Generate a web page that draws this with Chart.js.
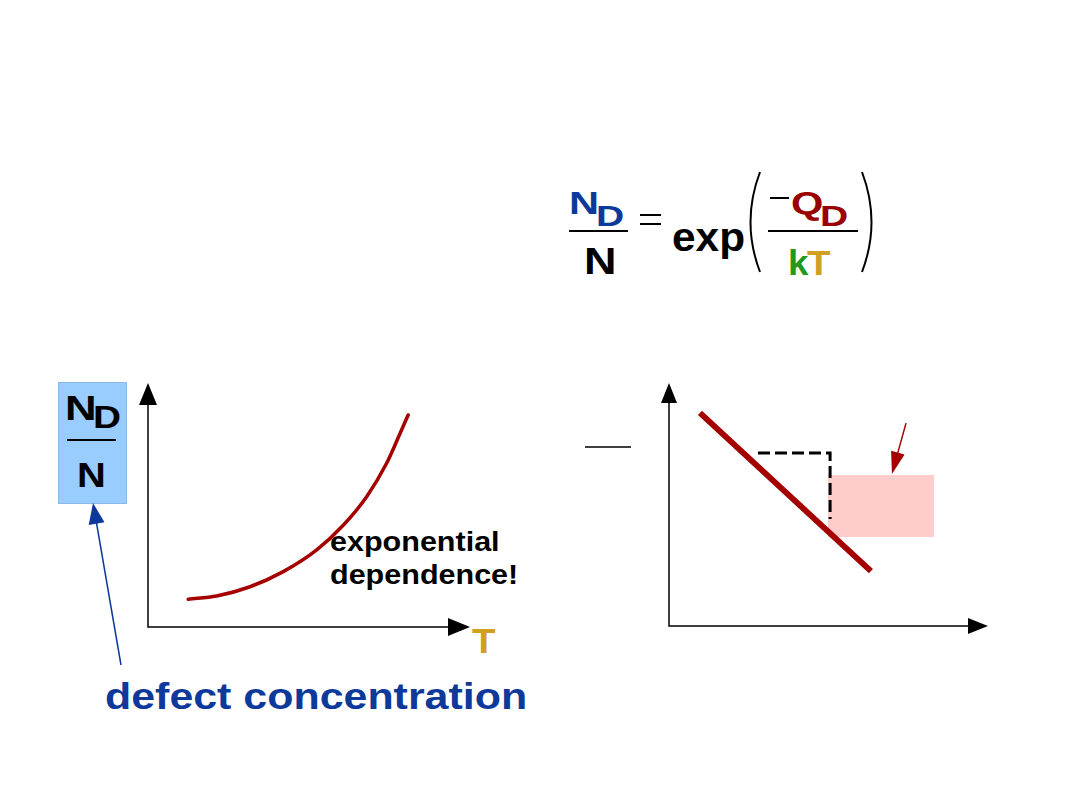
<!DOCTYPE html>
<html>

<head>
  <title>Defect concentration</title>
  <meta charset="UTF-8">
  <script src="https://cdn.jsdelivr.net/npm/chart.js"></script>
  <style>
    body {
      margin: 0;
      width: 1080px;
      height: 810px;
      overflow: hidden;
      background: white;
      font-family: "Liberation Sans", Arial, sans-serif;
      font-weight: bold;
      position: relative;
    }

    .t {
      position: absolute;
      line-height: 1;
      white-space: nowrap;
      transform-origin: 0 0;
    }

    .bar {
      position: absolute;
      height: 2px;
      background: black;
    }

    canvas {
      position: absolute;
    }

    #overlay {
      position: absolute;
      left: 0;
      top: 0;
    }
  </style>
</head>

<body>
  <!-- equation -->
  <div class="t" style="left:569px;top:187px;font-size:32px;color:#0d3a9a;transform:scaleX(1.3)">N</div>
  <div class="t" style="left:596px;top:201px;font-size:30px;color:#0d3a9a;transform:scaleX(1.3)">D</div>
  <div class="bar" style="left:569px;top:230px;width:59px"></div>
  <div class="t" style="left:584px;top:244px;font-size:36px;color:#000;transform:scaleX(1.25)">N</div>
  <div class="t" style="left:672px;top:217px;font-size:40px;color:#000;transform:scaleX(1.06)">exp</div>
  <div class="t" style="left:791px;top:187px;font-size:32px;color:#990000;transform:scaleX(1.3)">Q</div>
  <div class="t" style="left:820px;top:201px;font-size:30px;color:#990000;transform:scaleX(1.3)">D</div>
  <div class="bar" style="left:768px;top:230px;width:90px"></div>
  <div class="t" style="left:788px;top:245px;font-size:35px;color:#1f9a1f;transform:scaleX(1.05)">k</div>
  <div class="t" style="left:807px;top:245px;font-size:35px;color:#d0a020;transform:scaleX(1.1)">T</div>

  <!-- left box -->
  <div style="position:absolute;left:58px;top:382px;width:67px;height:120px;background:#99ccff;border:1px solid #8ab8e8"></div>
  <div class="t" style="left:65px;top:390px;font-size:35px;color:#000;transform:scaleX(1.25)">N</div>
  <div class="t" style="left:93px;top:402px;font-size:31px;color:#000;transform:scaleX(1.25)">D</div>
  <div class="bar" style="left:67px;top:439px;width:49px"></div>
  <div class="t" style="left:77px;top:457px;font-size:35px;color:#000;transform:scaleX(1.14)">N</div>

  <div class="t" style="left:472px;top:623px;font-size:35px;color:#d0a020;transform:scaleX(1.1)">T</div>
  <div class="t" style="left:330px;top:528px;font-size:28px;color:#000;transform:scaleX(1.09)">exponential</div>
  <div class="t" style="left:330px;top:561px;font-size:28px;color:#000;transform:scaleX(1.09)">dependence!</div>
  <div class="t" style="left:105px;top:678px;font-size:37px;color:#0d3a9a;transform:scaleX(1.16)">defect concentration</div>

  <canvas id="leftChart" width="362" height="284" style="left:128px;top:363px"></canvas>
  <canvas id="rightChart" width="359" height="283" style="left:649px;top:363px"></canvas>

  <svg id="overlay" width="1080" height="810">
    <!-- equals sign -->
    <line x1="640" y1="215" x2="661" y2="215" stroke="#000" stroke-width="2" />
    <line x1="640" y1="224" x2="661" y2="224" stroke="#000" stroke-width="2" />
    <!-- parentheses -->
    <path d="M760 172 Q741 222 760 272" fill="none" stroke="#000" stroke-width="2" />
    <path d="M862 172 Q881 222 862 272" fill="none" stroke="#000" stroke-width="2" />
    <!-- minus -->
    <line x1="770" y1="198" x2="789" y2="198" stroke="#000" stroke-width="2" />
    <!-- blue arrow -->
    <line x1="121" y1="665" x2="96" y2="520" stroke="#0d3a9a" stroke-width="1.5" />
    <polygon points="93,503 104.5,522.3 88.7,525.1" fill="#0d3a9a" />
    <!-- lone fraction bar -->
    <line x1="585" y1="447" x2="631" y2="447" stroke="#000" stroke-width="1.5" />
  </svg>

  <script>
    // left plot: N_D/N vs T (sketch)
    const curveT = [1.25, 2.13, 3.17, 4.20, 5.24, 6.07, 6.79, 7.41, 7.83, 8.08];
    const curveND = [1.14, 1.27, 1.65, 2.27, 3.16, 4.18, 5.34, 6.71, 7.94, 8.69];

    // right plot: straight line, slope triangle, box, pointer
    const lineX = [0.97, 6.33];
    const lineY = [8.77, 2.26];
    const dashX = [2.79, 5.05, 5.05];
    const dashY = [7.12, 7.12, 4.40];
    const boxX = [4.98, 8.31];
    const boxY = [3.66, 6.21];
    const pointerX = [7.43, 6.99];
    const pointerY = [8.35, 6.26];

    const RED = '#a50000';

    function toPoints(xs, ys) {
      return xs.map((x, i) => ({ x: x, y: ys[i] }));
    }

    function arrowHead(ctx, x1, y1, x2, y2, len, half) {
      const dx = x2 - x1, dy = y2 - y1;
      const d = Math.sqrt(dx * dx + dy * dy);
      const ux = dx / d, uy = dy / d;
      const bx = x2 - ux * len, by = y2 - uy * len;
      ctx.beginPath();
      ctx.moveTo(x2, y2);
      ctx.lineTo(bx - uy * half, by + ux * half);
      ctx.lineTo(bx + uy * half, by - ux * half);
      ctx.closePath();
      ctx.fill();
    }

    const arrowAxes = {
      id: 'arrowAxes',
      beforeDatasetsDraw(chart, args, opts) {
        const { ctx, chartArea: a } = chart;
        ctx.save();
        ctx.strokeStyle = '#000';
        ctx.fillStyle = '#000';
        ctx.lineWidth = 1.5;
        ctx.beginPath();
        ctx.moveTo(a.left, a.top + 10);
        ctx.lineTo(a.left, a.bottom);
        ctx.lineTo(a.right - 10, a.bottom);
        ctx.stroke();
        arrowHead(ctx, a.left, a.bottom, a.left, a.top, opts.len, opts.half);
        arrowHead(ctx, a.left, a.bottom, a.right, a.bottom, opts.len, opts.half);
        ctx.restore();
      }
    };

    const extras = {
      id: 'extras',
      beforeDatasetsDraw(chart) {
        const { ctx, scales: { x, y } } = chart;
        ctx.save();
        ctx.fillStyle = '#ffcccc';
        const x0 = x.getPixelForValue(boxX[0]), x1 = x.getPixelForValue(boxX[1]);
        const y0 = y.getPixelForValue(boxY[1]), y1 = y.getPixelForValue(boxY[0]);
        ctx.fillRect(x0, y0, x1 - x0, y1 - y0);
        ctx.restore();
      },
      afterDatasetsDraw(chart) {
        const { ctx, scales: { x, y } } = chart;
        const px1 = x.getPixelForValue(pointerX[0]), py1 = y.getPixelForValue(pointerY[0]);
        const px2 = x.getPixelForValue(pointerX[1]), py2 = y.getPixelForValue(pointerY[1]);
        ctx.save();
        ctx.strokeStyle = RED;
        ctx.fillStyle = RED;
        ctx.lineWidth = 1.5;
        ctx.beginPath();
        ctx.moveTo(px1, py1);
        ctx.lineTo(px1 + (px2 - px1) * 0.7, py1 + (py2 - py1) * 0.7);
        ctx.stroke();
        arrowHead(ctx, px1, py1, px2, py2, 22, 7);
        ctx.restore();
      }
    };

    const hiddenScales = {
      x: { type: 'linear', min: 0, max: 10, display: false },
      y: { type: 'linear', min: 0, max: 10, display: false }
    };

    const baseOptions = (arrow) => ({
      responsive: false,
      animation: false,
      devicePixelRatio: 1,
      layout: { padding: 20 },
      scales: hiddenScales,
      plugins: {
        legend: { display: false },
        tooltip: { enabled: false },
        arrowAxes: arrow
      },
      elements: { point: { radius: 0 } }
    });

    new Chart(document.getElementById('leftChart'), {
      type: 'line',
      data: {
        datasets: [{
          data: toPoints(curveT, curveND),
          borderColor: RED,
          borderWidth: 3.5,
          cubicInterpolationMode: 'monotone',
          borderCapStyle: 'round'
        }]
      },
      options: baseOptions({ len: 22, half: 9 }),
      plugins: [arrowAxes]
    });

    new Chart(document.getElementById('rightChart'), {
      type: 'line',
      data: {
        datasets: [{
          data: toPoints(dashX, dashY),
          borderColor: '#000',
          borderWidth: 3,
          borderDash: [12, 5],
          tension: 0
        }, {
          data: toPoints(lineX, lineY),
          borderColor: RED,
          borderWidth: 6,
          tension: 0
        }]
      },
      options: baseOptions({ len: 20, half: 8 }),
      plugins: [arrowAxes, extras]
    });
  </script>
</body>

</html>
